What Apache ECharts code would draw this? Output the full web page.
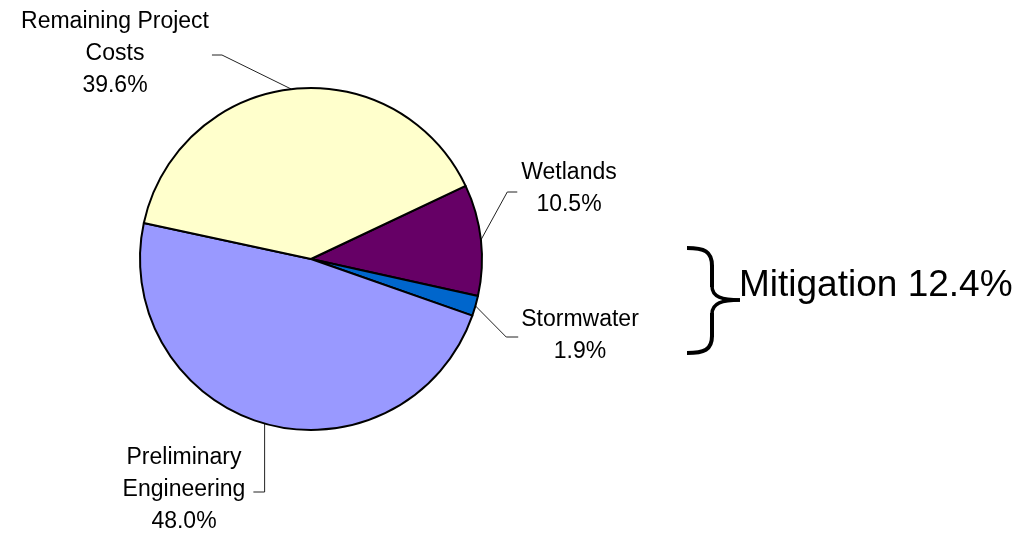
<!DOCTYPE html>
<html>
<head>
<meta charset="utf-8">
<script src="https://cdn.jsdelivr.net/npm/echarts@6/dist/echarts.min.js"></script>
<style>
  html, body { margin: 0; padding: 0; background: #fff; }
  #chart { width: 1023px; height: 533px; }
</style>
</head>
<body>
<div id="chart"></div>
<script>
// ---- data ----
const categories = ['Wetlands', 'Stormwater', 'Preliminary\nEngineering', 'Remaining Project\nCosts'];
const shares = [10.5, 1.9, 48.0, 39.6];
const sliceColors = ['#660066', '#0066CC', '#9999FF', '#FFFFCC'];
const mitigationIdx = [0, 1];
const mitigationName = 'Mitigation';

// ---- label placement (styling, not data) ----
const labelPlacement = [
  { x: 569, y: 189, side: 'left',  gap: 4, len2: 10, dy: 3 },
  { x: 580, y: 336, side: 'left',  gap: 3, len2: 12, dy: 1 },
  { x: 184, y: 490, side: 'right', gap: 8, vertical: true, dy: 2 },
  { x: 115, y: 54,  side: 'right', gap: 3, len2: 10, dy: 1 }
];

const FONT = 'Liberation Sans, Arial, Helvetica, sans-serif';
const mitigationTotal = mitigationIdx.reduce((s, i) => s + shares[i], 0);

const chart = echarts.init(document.getElementById('chart'), null, { renderer: 'canvas' });

const option = {
  backgroundColor: '#ffffff',
  animation: false,
  series: [{
    type: 'pie',
    center: [311, 259],
    radius: 171,
    startAngle: 25.3,
    clockwise: true,
    avoidLabelOverlap: false,
    data: categories.map((c, i) => ({
      name: c,
      value: shares[i],
      itemStyle: { color: sliceColors[i] }
    })),
    itemStyle: { borderColor: '#000', borderWidth: 2 },
    label: {
      show: true,
      position: 'outside',
      color: '#000',
      fontFamily: FONT,
      fontSize: 23,
      lineHeight: 32,
      align: 'center',
      formatter: p => p.name + '\n' + p.value.toFixed(1) + '%'
    },
    labelLine: {
      show: true,
      length: 20,
      length2: 10,
      lineStyle: { color: '#222', width: 1 }
    },
    labelLayout: function (params) {
      const pl = labelPlacement[params.dataIndex];
      const w = params.labelRect.width;
      const anchor = params.labelLinePoints ? params.labelLinePoints[0] : null;
      const ly = pl.y + pl.dy;
      let end, elbow;
      if (pl.side === 'left') {
        end = [pl.x - w / 2 - pl.gap, ly];
        elbow = [end[0] - pl.len2, ly];
      } else {
        end = [pl.x + w / 2 + pl.gap, ly];
        elbow = pl.vertical && anchor ? [anchor[0], ly] : [end[0] + pl.len2, ly];
      }
      const res = { x: pl.x, y: pl.y, align: 'center', verticalAlign: 'middle' };
      if (anchor) res.labelLinePoints = [anchor, elbow, end];
      return res;
    },
    emphasis: { disabled: true }
  }],
  graphic: [
    {
      type: 'group',
      children: [
        { type: 'bezierCurve', shape: { x1: 687, y1: 248, x2: 712, y2: 266, cpx1: 704, cpy1: 248, cpx2: 712, cpy2: 251 }, style: { stroke: '#000', lineWidth: 4, fill: null } },
        { type: 'line', shape: { x1: 712, y1: 265, x2: 712, y2: 287 }, style: { stroke: '#000', lineWidth: 4 } },
        { type: 'bezierCurve', shape: { x1: 712, y1: 286, x2: 740, y2: 300, cpx1: 712, cpy1: 297, cpx2: 722, cpy2: 300 }, style: { stroke: '#000', lineWidth: 3.5, fill: null } },
        { type: 'bezierCurve', shape: { x1: 740, y1: 300, x2: 712, y2: 314, cpx1: 722, cpy1: 300, cpx2: 712, cpy2: 303 }, style: { stroke: '#000', lineWidth: 3.5, fill: null } },
        { type: 'line', shape: { x1: 712, y1: 313, x2: 712, y2: 337 }, style: { stroke: '#000', lineWidth: 4 } },
        { type: 'bezierCurve', shape: { x1: 712, y1: 336, x2: 687, y2: 353, cpx1: 712, cpy1: 350, cpx2: 704, cpy2: 353 }, style: { stroke: '#000', lineWidth: 4, fill: null } }
      ]
    },
    {
      type: 'text',
      x: 739,
      y: 286,
      style: {
        text: mitigationName + ' ' + mitigationTotal.toFixed(1) + '%',
        fontFamily: FONT,
        fontSize: 37,
        fill: '#000',
        textAlign: 'left',
        textVerticalAlign: 'middle',
        verticalAlign: 'middle'
      }
    }
  ]
};

chart.setOption(option);
</script>
</body>
</html>
